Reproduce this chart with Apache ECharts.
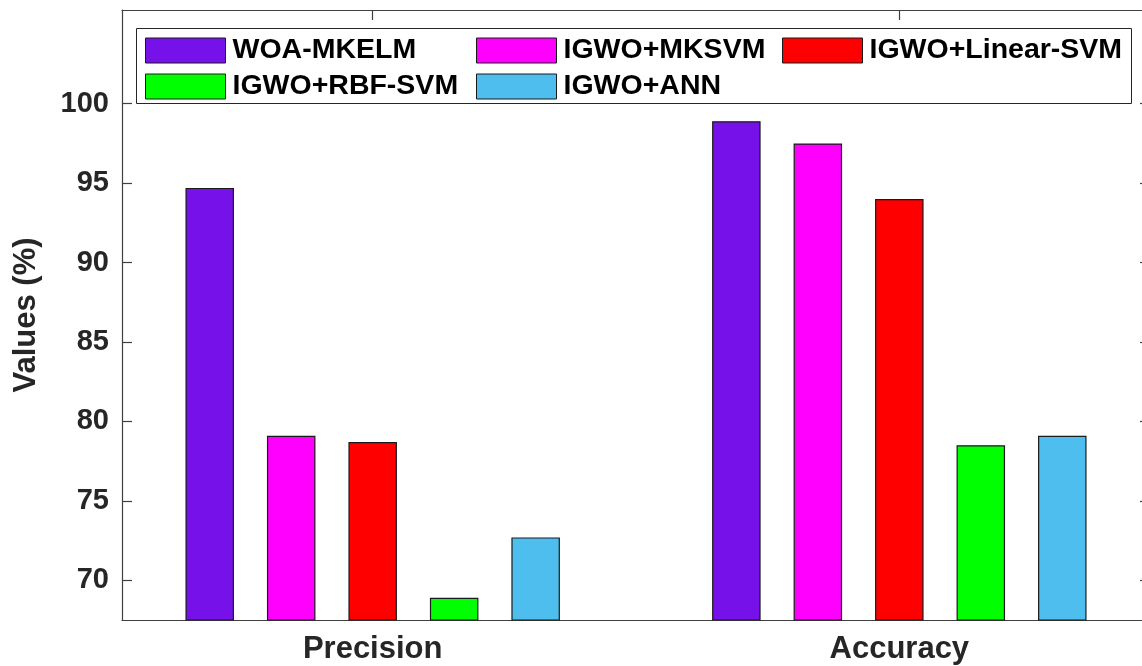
<!DOCTYPE html>
<html><head><meta charset="utf-8">
<script src="https://cdn.jsdelivr.net/npm/echarts@6/dist/echarts.min.js"></script>
<style>html,body{margin:0;padding:0;background:#fff;overflow:hidden;width:1142px;height:666px}#c{width:1150px;height:666px}</style>
</head><body><div id="c"></div>
<script>
const categories = ['Precision', 'Accuracy'];
const seriesNames = ['WOA-MKELM', 'IGWO+MKSVM', 'IGWO+Linear-SVM', 'IGWO+RBF-SVM', 'IGWO+ANN'];
const woaMkelm = [94.7, 98.9];
const igwoMksvm = [79.1, 97.5];
const igwoLinearSvm = [78.7, 94.0];
const igwoRbfSvm = [68.9, 78.5];
const igwoAnn = [72.7, 79.1];
const yTicks = [70, 75, 80, 85, 90, 95, 100];

const allValues = [woaMkelm, igwoMksvm, igwoLinearSvm, igwoRbfSvm, igwoAnn];
const colors = ['#7611EA', '#FF00FF', '#FF0000', '#00FF00', '#4DBEEE'];
const catPos = categories.map((c, i) => i + 1);
const FONT = 'Liberation Sans, Arial, sans-serif';
const AX = '#404040';

const chart = echarts.init(document.getElementById('c'), null, {renderer: 'canvas'});

const legendCommon = {
  orient: 'vertical', top: 36, padding: 0, itemGap: 7,
  itemWidth: 80, itemHeight: 25, icon: 'rect', selectedMode: false,
  itemStyle: {borderColor: '#1a1a1a', borderWidth: 1},
  textStyle: {fontFamily: FONT, fontSize: 28.5, fontWeight: 'bold', color: '#000', lineHeight: 25, padding: [0, 0, 0, 2]}
};

const option = {
  backgroundColor: '#fff',
  animation: false,
  grid: {left: 122, top: 10, right: 0, bottom: 46, containLabel: false},
  graphic: [{
    type: 'rect', z: 3,
    shape: {x: 136.5, y: 28.5, width: 995, height: 75},
    style: {fill: '#fff', stroke: '#262626', lineWidth: 1}
  }],
  legend: [
    Object.assign({}, legendCommon, {left: 145, data: [seriesNames[0], seriesNames[3]]}),
    Object.assign({}, legendCommon, {left: 476, data: [seriesNames[1], seriesNames[4]]}),
    Object.assign({}, legendCommon, {left: 782, data: [seriesNames[2]]})
  ],
  xAxis: [{
    type: 'value', position: 'bottom', min: 0.524, max: 2.476,
    axisLine: {show: true, lineStyle: {color: AX, width: 1.2}},
    axisTick: {show: true, inside: true, length: 10, customValues: catPos, lineStyle: {color: AX, width: 1.2}},
    axisLabel: {show: true, customValues: catPos, margin: 14,
      formatter: v => categories[Math.round(v) - 1] || '',
      fontFamily: FONT, fontSize: 31, fontWeight: 'bold', color: '#262626'},
    splitLine: {show: false}
  }, {
    type: 'value', position: 'top', min: 0.524, max: 2.476,
    axisLine: {show: true, lineStyle: {color: AX, width: 1.2}},
    axisTick: {show: true, inside: true, length: 10, customValues: catPos, lineStyle: {color: AX, width: 1.2}},
    axisLabel: {show: false},
    splitLine: {show: false}
  }],
  yAxis: [{
    type: 'value', position: 'left', min: 67.5, max: 105.9,
    name: 'Values (%)', nameLocation: 'middle', nameGap: 80,
    nameTextStyle: {fontFamily: FONT, fontSize: 31, fontWeight: 'bold', color: '#262626'},
    axisLine: {show: true, lineStyle: {color: AX, width: 1.2}},
    axisTick: {show: true, inside: true, length: 10, customValues: yTicks, lineStyle: {color: AX, width: 1.2}},
    axisLabel: {show: true, customValues: yTicks, margin: 13,
      fontFamily: FONT, fontSize: 29, fontWeight: 'bold', color: '#262626'},
    splitLine: {show: false}
  }, {
    type: 'value', position: 'right', min: 67.5, max: 105.9,
    axisLine: {show: true, lineStyle: {color: AX, width: 1.2}},
    axisTick: {show: true, inside: true, length: 10, customValues: yTicks, lineStyle: {color: AX, width: 1.2}},
    axisLabel: {show: false},
    splitLine: {show: false}
  }],
  series: seriesNames.map((name, k) => ({
    name: name, type: 'bar', xAxisIndex: 0, yAxisIndex: 0,
    barWidth: 48.5, barGap: '68%',
    itemStyle: {color: colors[k], borderColor: '#1a1a1a', borderWidth: 1.2},
    data: catPos.map((x, i) => [x, allValues[k][i]])
  }))
};
chart.setOption(option);
</script></body></html>
